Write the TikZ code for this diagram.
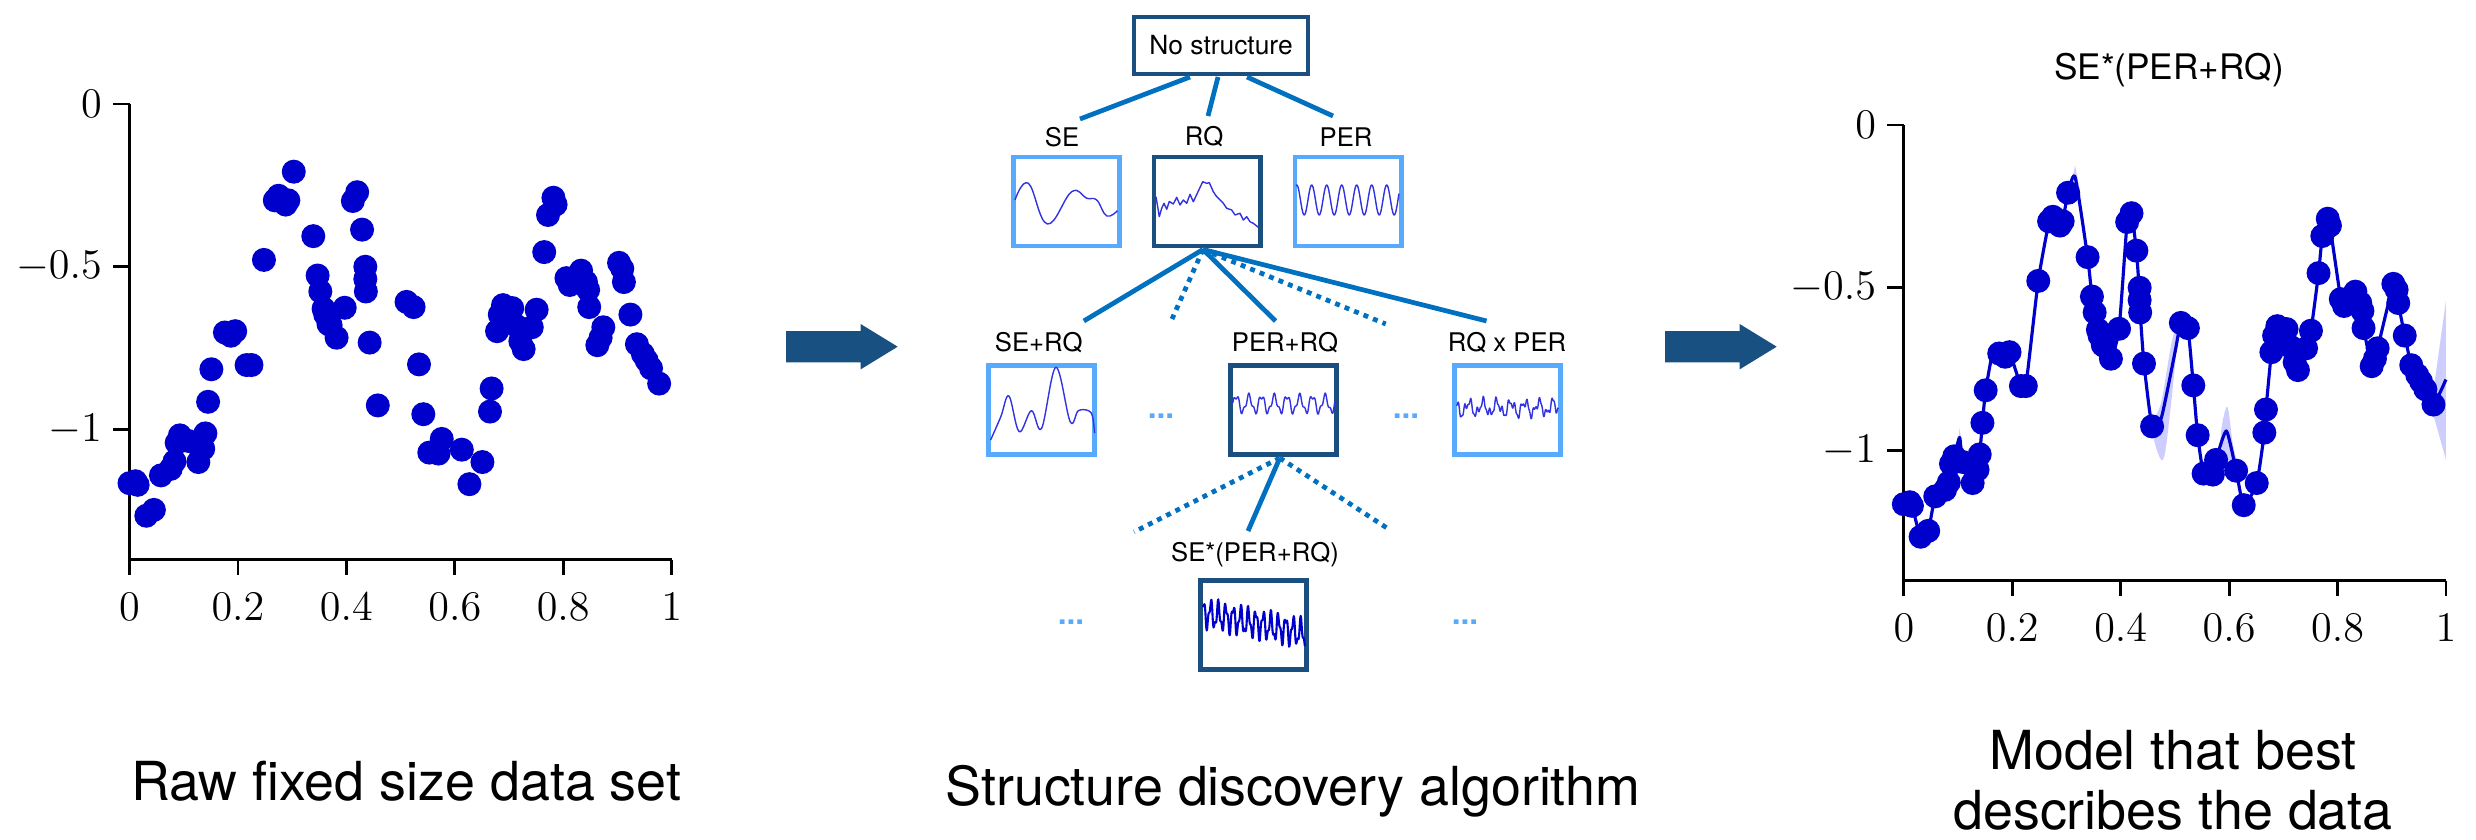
\documentclass[tikz,border=0pt]{standalone}
\usepackage{fontspec}
\setsansfont{TeX Gyre Heros}
\usepackage{tikz}
\usetikzlibrary{calc}
\definecolor{boxdark}{RGB}{27,79,128}
\definecolor{boxlight}{RGB}{88,170,252}
\definecolor{linkblue}{RGB}{0,112,192}
\definecolor{arrowblue}{RGB}{24,80,130}
\definecolor{datablue}{RGB}{0,0,204}
\definecolor{curveblue}{RGB}{50,50,225}
\definecolor{bandblue}{RGB}{205,205,255}

% observations, shared by both plots
\newcommand{\rawdata}{0/-1.165, 0.011/-1.159, 0.015/-1.17, 0.031/-1.265, 0.045/-1.247, 0.058/-1.141, 0.076/-1.121, 0.083/-1.098, 0.087/-1.041, 0.093/-1.018, 0.108/-1.035, 0.121/-1.041, 0.127/-1.1, 0.136/-1.059, 0.14/-1.012, 0.145/-0.915, 0.151/-0.815, 0.176/-0.702, 0.187/-0.712, 0.195/-0.698, 0.216/-0.802, 0.225/-0.802, 0.248/-0.479, 0.268/-0.296, 0.275/-0.282, 0.288/-0.309, 0.293/-0.296, 0.303/-0.208, 0.339/-0.406, 0.347/-0.527, 0.352/-0.576, 0.358/-0.629, 0.361/-0.647, 0.367/-0.676, 0.371/-0.68, 0.382/-0.718, 0.397/-0.626, 0.412/-0.298, 0.42/-0.271, 0.429/-0.386, 0.435/-0.5, 0.435/-0.538, 0.436/-0.576, 0.443/-0.733, 0.458/-0.926, 0.511/-0.608, 0.524/-0.624, 0.534/-0.8, 0.542/-0.953, 0.553/-1.071, 0.57/-1.074, 0.576/-1.029, 0.613/-1.062, 0.627/-1.168, 0.651/-1.1, 0.665/-0.945, 0.668/-0.874, 0.678/-0.698, 0.683/-0.647, 0.689/-0.618, 0.706/-0.627, 0.714/-0.682, 0.721/-0.729, 0.727/-0.753, 0.742/-0.686, 0.751/-0.632, 0.765/-0.455, 0.772/-0.341, 0.782/-0.288, 0.786/-0.309, 0.806/-0.535, 0.812/-0.556, 0.833/-0.512, 0.842/-0.547, 0.846/-0.571, 0.848/-0.624, 0.863/-0.741, 0.869/-0.718, 0.874/-0.686, 0.903/-0.488, 0.909/-0.506, 0.912/-0.547, 0.924/-0.647, 0.936/-0.738, 0.947/-0.768, 0.954/-0.788, 0.962/-0.812, 0.977/-0.859}

\begin{document}
\begin{tikzpicture}[x=0.01cm, y=-0.01cm,
    kbox/.style={draw=boxlight, line width=1.4pt, minimum width=1.06cm, minimum height=0.89cm, inner sep=0pt},
    kboxsel/.style={kbox, draw=boxdark},
    klabel/.style={font=\sffamily\fontsize{7.3}{8.5}\selectfont, inner sep=1pt},
    link/.style={linkblue, line width=1.35pt},
    maybe/.style={link, dash pattern=on 1.4pt off 1.5pt},
    moredots/.style={boxlight, font=\sffamily\bfseries\fontsize{9}{10}\selectfont, anchor=base, inner sep=0pt},
    wiggle/.style={curveblue, line width=0.4pt, line join=round},
    caption/.style={font=\sffamily\fontsize{15.3}{16.8}\selectfont, anchor=base, align=center, inner sep=0pt},
    ticklbl/.style={font=\fontsize{11.5}{13}\selectfont, inner sep=0pt},
    axisline/.style={line width=0.8pt},
    bigarrow/.pic={\fill[arrowblue] (0,-15.65) -- (74.7,-15.65) -- (74.7,-22.65) -- (111.7,0)
        -- (74.7,22.65) -- (74.7,15.65) -- (0,15.65) -- cycle;}]
    \useasboundingbox (0,0) rectangle (2476,840);

    % Raw data
    \begin{scope}[shift={(129.5,104)}, x=5.418cm, y=3.253cm]
        \draw[axisline] (0,0) -- (0,-1.4) -- (1,-1.4);
        \foreach \t/\l in {0/0, -0.5/-0.5, -1/-1} {
            \draw[axisline] (0,\t) -- (-0.031,\t);
            \node[ticklbl, anchor=east] at (-0.05,\t) {$\l$};
        }
        \foreach \t in {0,0.2,0.4,0.6,0.8,1} {
            \draw[axisline] (\t,-1.4) -- (\t,-1.446);
            \node[ticklbl, anchor=base] at (\t,-1.586) {$\t$};
        }
        \foreach \px/\py in \rawdata
            \fill[datablue] (\px,\py) circle (0.12cm);
    \end{scope}

    % Arrows
    \pic at (786,346.7) {bigarrow};
    \pic at (1665,346.7) {bigarrow};

    % Search tree
    \node[draw=boxdark, line width=1.3pt, minimum width=1.74cm, minimum height=0.57cm,
        font=\sffamily\fontsize{7.5}{9}\selectfont] (root) at (1221,45.5) {No structure};

    \node[klabel] (se-lbl) at (1062,137) {SE};
    \node[klabel] (rq-lbl) at (1204,137) {RQ};
    \node[klabel] (per-lbl) at (1346,137) {PER};
    \node[kbox] (se) at (1066.7,201.5) {};
    \node[kboxsel] (rq) at (1207,201.5) {};
    \node[kbox] (per) at (1348,201.5) {};

    \node[klabel] (serq-lbl) at (1038.8,343) {SE+RQ};
    \node[klabel] (perrq-lbl) at (1285,343) {PER+RQ};
    \node[klabel] (rqper-lbl) at (1507,343) {RQ x PER};
    \node[kbox] (serq) at (1041.6,410) {};
    \node[kboxsel] (perrq) at (1283.8,410) {};
    \node[kbox] (rqper) at (1507.4,410) {};
    \node[moredots] (dots-a) at (1161,419) {...};
    \node[moredots] (dots-b) at (1406,419) {...};

    \node[klabel] (best-lbl) at (1255,555) {SE*(PER+RQ)};
    \node[kboxsel] (best) at (1253.9,625.4) {};
    \node[moredots] (dots-c) at (1071,624) {...};
    \node[moredots] (dots-d) at (1465,624) {...};

    % Tree edges
    \draw[link] ($(root.center)+(-31,31.5)$) -- ($(se-lbl.center)+(18,-18)$);
    \draw[link] ($(root.center)+(-3,31.5)$) -- ($(rq-lbl.center)+(4,-21)$);
    \draw[link] ($(root.center)+(26,31.5)$) -- ($(per-lbl.center)+(-13,-21)$);

    \coordinate (rq-more-a) at (1172,319);
    \coordinate (rq-more-b) at (1385.7,324);
    \draw[link] ($(rq.south)+(-4,1)$) -- ($(serq-lbl.center)+(45,-22)$);
    \draw[link] ($(rq.south)+(-4,1)$) -- ($(perrq-lbl.center)+(-9.5,-22)$);
    \draw[link] ($(rq.south)+(-4,1)$) -- ($(rqper-lbl.center)+(-20.5,-22)$);
    \draw[maybe] ($(rq.south)+(-4,1)$) -- (rq-more-a);
    \draw[maybe] ($(rq.south)+(-4,1)$) -- (rq-more-b);

    \coordinate (perrq-more-a) at (1134,532);
    \coordinate (perrq-more-b) at (1390,530);
    \draw[link] ($(perrq.south)+(-4,1)$) -- ($(best-lbl.center)+(-7,-24)$);
    \draw[maybe] ($(perrq.south)+(-4,1)$) -- (perrq-more-a);
    \draw[maybe] ($(perrq.south)+(-4,1)$) -- (perrq-more-b);

    % Kernel samples
    \begin{scope}[shift={(se.center)}]
        \draw[wiggle] plot[smooth, tension=0.7] coordinates {(-51.7,-1.5) (-38.3,-18.2) (-19.3,22.5) (5,-9.8) (20,-3.2) (30,-1.5) (40,14.5) (50.7,9.2)};
    \end{scope}
    \begin{scope}[shift={(rq.center)}]
        \draw[wiggle] (-51,-4.8) -- (-47.7,15.2) -- (-45.3,6.8) -- (-43,1.8) -- (-40.3,7.8) -- (-37.7,0) -- (-33.7,2.5)
            -- (-30.3,-4.2) -- (-27,3.5) -- (-23.7,-1.5) -- (-20.3,1.8) -- (-17,-7.2) -- (-13.7,0.2) -- (-9.7,-8.2)
            -- (-4.3,-19.8) -- (-0.3,-18.2) -- (2.3,-18.8) -- (6.3,-9.8) -- (9.7,-4.8) -- (13,-1.5) -- (16.3,1.8)
            -- (19.7,6.8) -- (24.7,8.5) -- (28,13.5) -- (33,11.8) -- (36.3,18.5) -- (39.7,15.2) -- (43,20.2)
            -- (46.3,21.8) -- (51.3,25.8);
    \end{scope}
    \begin{scope}[shift={(per.center)}]
        \draw[wiggle] plot[domain=-52:51, samples=160] (\x, {-1.5-15*cos(24*(\x+36.3))});
    \end{scope}
    \begin{scope}[shift={(serq.center)}]
        \draw[wiggle] plot[smooth, tension=0.6] coordinates {(-51,30) (-40.8,6.7) (-32.7,-14) (-22.4,21.7) (-10.2,0.7) (0,18.3) (14.3,-42.7) (28.6,11.7) (36.7,0.7) (47,0.7) (51,6.7) (53,23)};
    \end{scope}
    \begin{scope}[shift={(perrq.center)}]
        \draw[wiggle] plot[domain=-51:51, samples=160] (\x, {-6-8*sin(28.35*\x)-3*sin(70.59*\x+40)});
    \end{scope}
    \begin{scope}[shift={(rqper.center)}]
        \draw[wiggle] plot[domain=-51:51, samples=180] (\x, {-2-6*sin(25.71*\x)-4*sin(57.14*\x+20)-2*sin(116.13*\x)});
    \end{scope}
    \begin{scope}[shift={(best.center)}]
        \draw[wiggle, datablue, line width=0.6pt] plot[domain=-51:51, samples=240] (\x, {0.2*\x-2-12*sin(48*\x)-5*sin(109.09*\x+30)});
    \end{scope}

    % Fitted model
    \node[font=\sffamily\fontsize{10}{12}\selectfont] (fit-title) at (2169,70) {SE*(PER+RQ)};
    \begin{scope}[shift={(1903.8,125)}, x=5.418cm, y=3.253cm]
        % Uncertainty band
        \fill[bandblue] (0.303,-0.22) -- (0.316,-0.125) -- (0.328,-0.23) -- (0.316,-0.17) -- cycle;
        \fill[bandblue] plot[smooth cycle, tension=0.6] coordinates {(0.458,-0.93) (0.477,-1.03) (0.49,-0.9) (0.505,-0.64) (0.495,-0.66) (0.475,-0.85)};
        \fill[bandblue] plot[smooth cycle, tension=0.6] coordinates {(0.585,-0.98) (0.596,-0.865) (0.606,-0.97) (0.615,-1.06)};
        \fill[bandblue] (0.975,-0.84) -- (1,-0.54) -- (1,-1.028) -- (0.975,-0.88) -- cycle;
        \fill[bandblue] (0.098,-1.0) -- (0.103,-0.93) -- (0.108,-1.0) -- cycle;
        \fill[bandblue] (0.16,-0.74) -- (0.168,-0.66) -- (0.176,-0.72) -- cycle;

        \draw[axisline] (0,0) -- (0,-1.4) -- (1,-1.4);
        \foreach \t/\l in {0/0, -0.5/-0.5, -1/-1} {
            \draw[axisline] (0,\t) -- (-0.031,\t);
            \node[ticklbl, anchor=east] at (-0.05,\t) {$\l$};
        }
        \foreach \t in {0,0.2,0.4,0.6,0.8,1} {
            \draw[axisline] (\t,-1.4) -- (\t,-1.446);
            \node[ticklbl, anchor=base] at (\t,-1.586) {$\t$};
        }

        % Posterior mean
        \draw[datablue, line width=0.9pt, line join=round] plot[smooth, tension=0.35] coordinates {
            (0,-1.165) (0.011,-1.159) (0.015,-1.17) (0.031,-1.265) (0.045,-1.247) (0.058,-1.141) (0.076,-1.121)
            (0.083,-1.098) (0.087,-1.041) (0.093,-1.018) (0.103,-0.96) (0.108,-1.035) (0.121,-1.041) (0.127,-1.1)
            (0.136,-1.059) (0.14,-1.012) (0.145,-0.915) (0.151,-0.815) (0.165,-0.69) (0.176,-0.702) (0.187,-0.712)
            (0.195,-0.698) (0.216,-0.802) (0.225,-0.802) (0.248,-0.479) (0.268,-0.296) (0.275,-0.282) (0.288,-0.309)
            (0.293,-0.296) (0.303,-0.208) (0.316,-0.16) (0.339,-0.406) (0.347,-0.527) (0.352,-0.576) (0.358,-0.629)
            (0.361,-0.647) (0.367,-0.676) (0.371,-0.68) (0.382,-0.718) (0.397,-0.626) (0.412,-0.298) (0.42,-0.271)
            (0.429,-0.386) (0.434,-0.5) (0.435,-0.538) (0.436,-0.576) (0.443,-0.733) (0.458,-0.926) (0.475,-0.9)
            (0.5,-0.7) (0.511,-0.608) (0.524,-0.624) (0.534,-0.8) (0.542,-0.953) (0.553,-1.071) (0.57,-1.074)
            (0.576,-1.029) (0.595,-0.94) (0.613,-1.062) (0.627,-1.168) (0.651,-1.1) (0.665,-0.945) (0.668,-0.874)
            (0.678,-0.698) (0.683,-0.647) (0.689,-0.618) (0.706,-0.627) (0.714,-0.682) (0.721,-0.729) (0.727,-0.753)
            (0.742,-0.686) (0.751,-0.632) (0.765,-0.455) (0.772,-0.341) (0.782,-0.288) (0.786,-0.309) (0.806,-0.535)
            (0.812,-0.556) (0.833,-0.512) (0.842,-0.547) (0.846,-0.571) (0.848,-0.624) (0.863,-0.741) (0.869,-0.718)
            (0.874,-0.686) (0.903,-0.488) (0.909,-0.506) (0.912,-0.547) (0.924,-0.647) (0.936,-0.738) (0.947,-0.768)
            (0.954,-0.788) (0.962,-0.812) (0.977,-0.859) (1,-0.782)};
        \foreach \px/\py in \rawdata
            \fill[datablue] (\px,\py) circle (0.12cm);
    \end{scope}

    % Captions
    \node[caption] (cap-raw) at (406.5,800) {Raw fixed size data set};
    \node[caption] (cap-search) at (1293,805) {Structure discovery algorithm};
    \node[caption] (cap-model) at (2173,829) {Model that best\\describes the data};
\end{tikzpicture}
\end{document}
